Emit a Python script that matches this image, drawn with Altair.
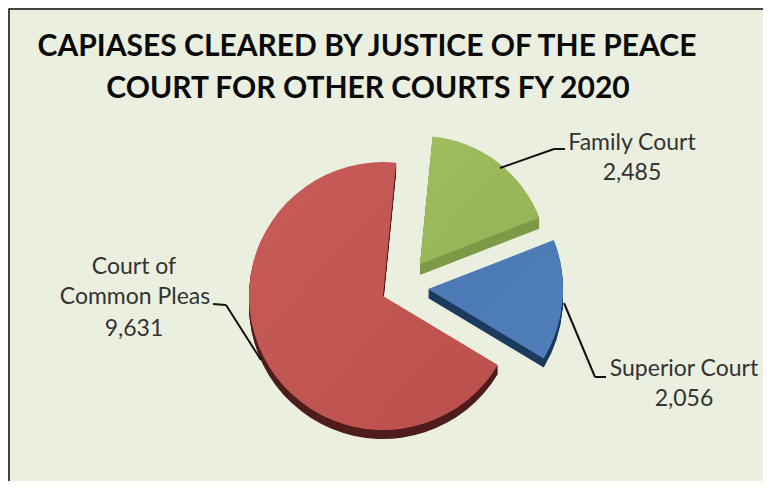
import math
import altair as alt
import pandas as pd

# Data
courts = ["Court of Common Pleas", "Family Court", "Superior Court"]
values = [9631, 2485, 2056]
title_lines = ["CAPIASES CLEARED BY JUSTICE OF THE PEACE", "COURT FOR OTHER COURTS FY 2020"]

W, H = 755, 473
def px(v):
    return v - 8

source = pd.DataFrame({"court": courts, "value": values})
total = sum(values)


def slice_base(court):
    return (
        alt.Chart(source)
        .transform_window(end="sum(value)", frame=[None, 0])
        .transform_calculate(begin="datum.end - datum.value")
        .transform_filter(alt.datum.court == court)
    )


theta_scale = alt.Scale(domain=[0, total], range=[math.radians(121), math.radians(121) + 2 * math.pi])


def draw_slice(court, cx, cy, radius, depth, side, stops, angle_dir=(0, 0, 1, 1)):
    layers = []
    for off in range(depth, 0, -1):
        layers.append(
            slice_base(court)
            .mark_arc(color=side, outerRadius=radius, innerRadius=0)
            .encode(
                theta=alt.Theta("begin:Q", scale=theta_scale, title=None),
                theta2="end:Q",
                x=alt.value(px(cx)),
                y=alt.value(px(cy + off)),
            )
        )
    gradient = alt.LinearGradient(
        gradient="linear",
        x1=angle_dir[0], y1=angle_dir[1], x2=angle_dir[2], y2=angle_dir[3],
        stops=[alt.GradientStop(offset=o, color=c) for o, c in stops],
    )
    layers.append(
        slice_base(court)
        .mark_arc(color=gradient, outerRadius=radius, innerRadius=0)
        .encode(
            theta=alt.Theta("begin:Q", scale=theta_scale, title=None),
            theta2="end:Q",
            x=alt.value(px(cx)),
            y=alt.value(px(cy)),
        )
    )
    return layers


def text_at(txt, x, y, size, weight="normal", color="#333333"):
    return (
        alt.Chart(pd.DataFrame({"t": [txt]}))
        .mark_text(font="Lato", fontSize=size, fontWeight=weight, color=color, align="center", baseline="middle")
        .encode(text="t:N", x=alt.value(px(x)), y=alt.value(px(y)))
    )


def seg(x1, y1, x2, y2):
    return (
        alt.Chart(pd.DataFrame({"k": [0]}))
        .mark_rule(color="#111111", strokeWidth=2)
        .encode(x=alt.value(px(x1)), y=alt.value(px(y1)), x2=alt.value(px(x2)), y2=alt.value(px(y2)))
    )


layers = []
layers += [seg(8.5, 9, 771, 9).encode(color=alt.value("#444444")), seg(9, 8.5, 9, 489).encode(color=alt.value("#444444"))]
layers += draw_slice("Court of Common Pleas", 383, 296, 134, 9, "#4f1d1c",
                     [(0, "#c75c59"), (1, "#bb4f4c")])
layers += draw_slice("Family Court", 420, 264, 128, 11, "#7e9a48",
                     [(0, "#a0bd5f"), (1, "#94b354")])
layers += draw_slice("Superior Court", 428, 289, 135, 9, "#1d3a60",
                     [(0, "#4a78b4"), (1, "#507fb9")])

layers += [seg(500, 168, 554, 149), seg(554, 149, 565, 149),
           seg(564, 303, 595, 377), seg(595, 377, 606, 377),
           seg(261, 360, 226, 305), seg(226, 305, 213, 304)]

layers += [
    text_at(title_lines[0], 367, 47, 30, "bold", "#0a0a0a"),
    text_at(title_lines[1], 368, 89, 30, "bold", "#0a0a0a"),
    text_at("Family Court", 632, 143, 23),
    text_at(f"{values[1]:,}", 632, 173, 23),
    text_at("Superior Court", 684, 369, 23),
    text_at(f"{values[2]:,}", 684, 399, 23),
    text_at("Court of", 134, 267, 23),
    text_at("Common Pleas", 135, 297, 23),
    text_at(f"{values[0]:,}", 134, 329, 23),
]

chart = (
    alt.layer(*layers)
    .properties(width=W, height=H, padding=0, background="#ebefdf",
                autosize=alt.AutoSizeParams(type="none"))
    .configure_view(stroke=None)
)
chart.save("out.html", embed_options={"renderer": "svg", "actions": False})
